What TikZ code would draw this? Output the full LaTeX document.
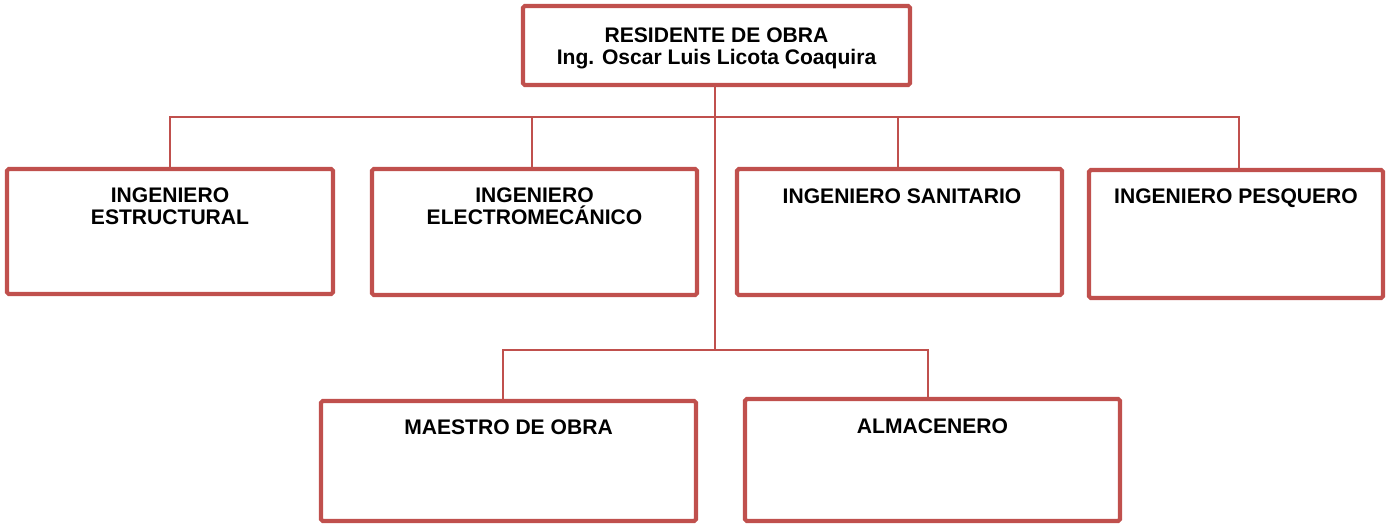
\documentclass[tikz,border=0pt]{standalone}
\usepackage{fontspec}
\setmainfont{Liberation Sans}
\usepackage{tikz}
\usetikzlibrary{positioning}

\definecolor{rojo}{HTML}{C0504D}

\tikzset{
    caja/.style = {draw = rojo, line width = 2.4pt, rounded corners = 1pt, inner sep = 0pt},
    rotulo/.style = {anchor = north, inner sep = 0pt, align = center,
        font = \fontsize{12}{13}\selectfont\bfseries},
    linea/.style = {draw = rojo, line width = 1pt}
}

\begin{document}
\begin{tikzpicture}[x = 0.02cm, y = -0.02cm]
    \useasboundingbox (0,0) rectangle (1389,524);
    % cajas
    \node[caja, minimum width = 387*0.02cm, minimum height = 79*0.02cm] (res) at (716.5,45.5) {};
    \node[caja, minimum width = 326*0.02cm, minimum height = 125*0.02cm] (est) at (170,231.5) {};
    \node[caja, minimum width = 325*0.02cm, minimum height = 126*0.02cm] (ele) at (534.5,232) {};
    \node[caja, minimum width = 325*0.02cm, minimum height = 126*0.02cm] (san) at (899.5,232) {};
    \node[caja, minimum width = 294*0.02cm, minimum height = 128*0.02cm] (pes) at (1236,234) {};
    \node[caja, minimum width = 375*0.02cm, minimum height = 120*0.02cm] (mae) at (508.5,461) {};
    \node[caja, minimum width = 375*0.02cm, minimum height = 122*0.02cm] (alm) at (932.5,460) {};
    % textos
    \node[rotulo] (resT) at (716.5,27) {RESIDENTE DE OBRA\\Ing. Oscar Luis Licota Coaquira};
    \node[rotulo] (estT) at (170,187) {INGENIERO\\ESTRUCTURAL};
    \node[rotulo] (eleT) at (534.5,187) {INGENIERO\\ELECTROMEC\'ANICO};
    \node[rotulo] (sanT) at (902,188) {INGENIERO SANITARIO};
    \node[rotulo] (pesT) at (1236,188) {INGENIERO PESQUERO};
    \node[rotulo] (maeT) at (508.5,419) {MAESTRO DE OBRA};
    \node[rotulo] (almT) at (932.5,418) {ALMACENERO};
    % lineas
    \coordinate (bus1) at (715,117);
    \coordinate (bus2) at (715,350);
    \draw[linea] (res.south -| bus1) -- (bus2);
    \draw[linea] (est.north) |- (bus1) -| ([xshift=0.06cm]pes.north);
    \draw[linea] ([xshift=-0.05cm]ele.north) -- ([xshift=-0.05cm]ele.north |- bus1);
    \draw[linea] ([xshift=-0.03cm]san.north) -- ([xshift=-0.03cm]san.north |- bus1);
    \draw[linea] ([xshift=-0.11cm]mae.north) |- (bus2) -| ([xshift=-0.09cm]alm.north);
\end{tikzpicture}
\end{document}
